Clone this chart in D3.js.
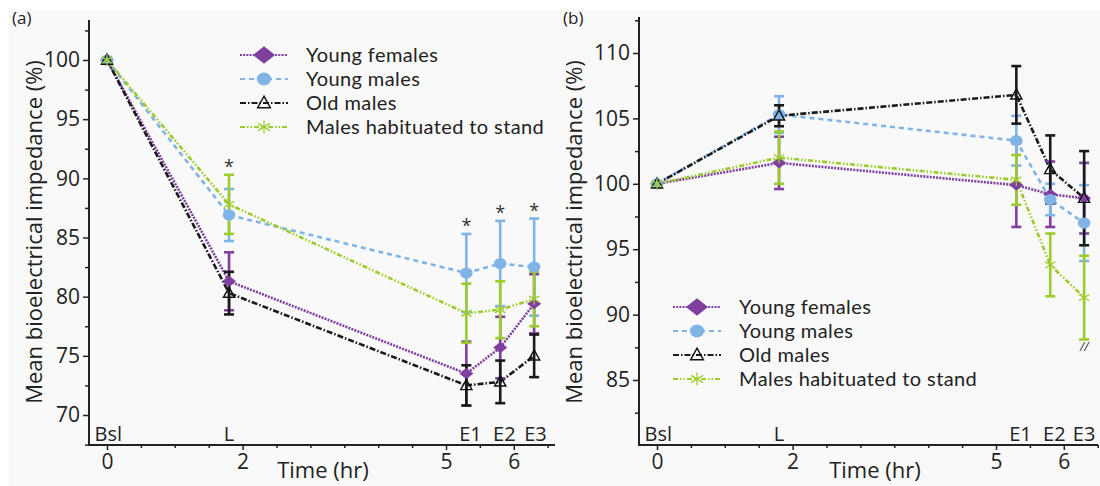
<!DOCTYPE html>
<html>
<head>
<meta charset="utf-8">
<script src="https://cdn.jsdelivr.net/npm/d3@7"></script>
<style>
  body { margin: 0; background: #fff; }
  svg { display: block; font-family: "Open Sans", "DejaVu Sans", sans-serif; }
  .tick text { fill: #222; }
</style>
</head>
<body>
<div class="chart"></div>
<script>
// time points (hr) and their phase labels
var times = [0, 1.8, 5.3, 5.8, 6.3];
var phases = ["Bsl", "L", "E1", "E2", "E3"];
var seriesNames = ["Young females", "Young males", "Old males", "Males habituated to stand"];

// panel (a)
var aYoungFemales = [100, 81.3, 73.5, 75.7, 79.4];
var aYoungFemalesErr = [0, 2.45, 2.7, 2.6, 2.5];
var aYoungMales = [100, 86.9, 82.0, 82.8, 82.5];
var aYoungMalesErr = [0, 2.2, 3.3, 3.6, 4.1];
var aOldMales = [100, 80.3, 72.5, 72.8, 75.0];
var aOldMalesErr = [0, 1.8, 1.7, 1.8, 1.8];
var aHabituated = [100, 87.8, 78.6, 78.9, 79.8];
var aHabituatedErr = [0, 2.5, 2.5, 2.4, 2.3];
var aStars = ["L", "E1", "E2", "E3"];

// panel (b)
var bYoungFemales = [100, 101.6, 99.9, 99.2, 98.9];
var bYoungFemalesErr = [0, 2.0, 3.2, 2.5, 2.7];
var bYoungMales = [100, 105.3, 103.3, 98.8, 97.0];
var bYoungMalesErr = [0, 1.4, 1.9, 1.2, 2.9];
var bOldMales = [100, 105.2, 106.8, 101.1, 98.9];
var bOldMalesErr = [0, 0.8, 2.2, 2.6, 3.6];
var bHabituated = [100, 102.0, 100.3, 93.8, 91.3];
var bHabituatedErr = [0, 2.0, 1.9, 2.4, 3.2];

var xTicks = [0, 2, 5, 6];
var aYTicks = [70, 75, 80, 85, 90, 95, 100];
var bYTicks = [85, 90, 95, 100, 105, 110];

var styles = [
  {color: "#7f3f9f", dash: "2,1.2", marker: "diamond"},
  {color: "#80b4e6", dash: "5,4", marker: "circle"},
  {color: "#1a1a1a", dash: "6,2,1.5,2", marker: "triangle"},
  {color: "#9ccc2c", dash: "5,2,1.5,2,1.5,2", marker: "cross"}
];

var width = 1100, height = 486;
var svg = d3.select(".chart").append("svg")
  .attr("width", width)
  .attr("height", height);

svg.append("rect").attr("x", 9).attr("y", 10).attr("width", width - 9).attr("height", height - 10)
  .attr("fill", "#f9f9f9");

function drawMarker(g, type, color, cx, cy, s) {
  if (type == "diamond") {
    g.append("path")
      .attr("d", "M" + (cx - s) + "," + cy + "L" + cx + "," + (cy - s * 0.8) + "L" + (cx + s) + "," + cy + "L" + cx + "," + (cy + s * 0.8) + "Z")
      .attr("fill", color);
  } else if (type == "circle") {
    g.append("ellipse").attr("cx", cx).attr("cy", cy).attr("rx", s * 0.9).attr("ry", s * 0.8).attr("fill", color);
  } else if (type == "triangle") {
    g.append("path")
      .attr("d", "M" + cx + "," + (cy - s * 0.85) + "L" + (cx + s * 0.8) + "," + (cy + s * 0.6) + "L" + (cx - s * 0.8) + "," + (cy + s * 0.6) + "Z")
      .attr("fill", "none").attr("stroke", "#111").attr("stroke-width", 1.4);
  } else {
    var k = s * 0.75;
    g.append("path")
      .attr("d", "M" + (cx - k) + "," + (cy - k * 0.6) + "L" + (cx + k) + "," + (cy + k * 0.6) +
        "M" + (cx - k) + "," + (cy + k * 0.6) + "L" + (cx + k) + "," + (cy - k * 0.6) +
        "M" + cx + "," + (cy - k * 1.1) + "L" + cx + "," + (cy + k * 1.1))
      .attr("fill", "none").attr("stroke", color).attr("stroke-width", 1.3);
  }
}

function drawPanel(p) {
  var x = d3.scaleLinear().domain([0, 6]).range([p.x0, p.x0 + 6 * 67.8]);
  var y = d3.scaleLinear().domain(p.yDomain).range(p.yRange);
  var g = svg.append("g");

  // axes lines
  g.append("line").attr("x1", p.axisX).attr("x2", p.axisX).attr("y1", p.axisTop).attr("y2", p.axisBottom)
    .attr("stroke", "#222").attr("stroke-width", 2);
  g.append("line").attr("x1", p.axisX - 1).attr("x2", p.axisRight).attr("y1", p.axisBottom).attr("y2", p.axisBottom)
    .attr("stroke", "#222").attr("stroke-width", 2);

  var yMinor = d3.range(p.yTicks[0] - 2.5, p.yDomainTop, 2.5).filter(function(v) { return p.yTicks.indexOf(v) < 0; });
  var ya = g.append("g").attr("transform", "translate(" + p.axisX + ",0)")
    .call(d3.axisLeft(y).tickValues(p.yTicks).tickSize(6).tickPadding(3).tickFormat(d3.format("d")));
  ya.select(".domain").remove();
  ya.selectAll(".tick line").attr("stroke", "#222").attr("stroke-width", 1.5);
  ya.selectAll(".tick text").attr("font-size", 21).attr("font-family", "'Open Sans', sans-serif");
  var ym = g.append("g").attr("transform", "translate(" + p.axisX + ",0)")
    .call(d3.axisLeft(y).tickValues(yMinor).tickSize(4).tickFormat(""));
  ym.select(".domain").remove();
  ym.selectAll(".tick line").attr("stroke", "#222").attr("stroke-width", 1.5);

  var xMinor = d3.range(0.5, 6.6, 0.5).filter(function(v) { return xTicks.indexOf(v) < 0; });
  var xa = g.append("g").attr("transform", "translate(0," + p.axisBottom + ")")
    .call(d3.axisBottom(x).tickValues(xTicks).tickSize(5).tickPadding(4).tickFormat(d3.format("d")));
  xa.select(".domain").remove();
  xa.selectAll(".tick line").attr("stroke", "#222").attr("stroke-width", 1.5);
  xa.selectAll(".tick text").attr("font-size", 21).attr("font-family", "'Open Sans', sans-serif");
  var xm = g.append("g").attr("transform", "translate(0," + p.axisBottom + ")")
    .call(d3.axisBottom(x).tickValues(xMinor).tickSize(3).tickFormat(""));
  xm.select(".domain").remove();
  xm.selectAll(".tick line").attr("stroke", "#222").attr("stroke-width", 1.5);

  // phase labels above x axis
  g.selectAll("text.phase").data(phases).enter().append("text")
    .attr("class", "phase")
    .attr("x", function(d, i) { return x(p.phaseAt[i]); })
    .attr("y", p.axisBottom - 4)
    .attr("text-anchor", "middle")
    .attr("font-size", 20)
    .attr("fill", "#222")
    .text(function(d) { return d; });

  g.append("text").attr("x", p.titleX).attr("y", 478).attr("text-anchor", "middle")
    .attr("font-size", 22).attr("fill", "#222").text("Time (hr)");
  g.append("text").attr("transform", "translate(" + p.yTitleX + "," + p.yTitleY + ") rotate(-90)")
    .attr("text-anchor", "middle").attr("font-size", 22).attr("fill", "#222")
    .text("Mean bioelectrical impedance (%)");
  g.append("text").attr("x", p.tagX).attr("y", 24).attr("font-size", 17).attr("fill", "#222").text(p.tag);

  var line = d3.line()
    .x(function(d) { return x(d.t); })
    .y(function(d) { return y(d.v); });

  p.series.forEach(function(s, k) {
    var pts = times.map(function(t, i) { return {t: t, v: s.v[i], e: s.e[i]}; });
    g.append("path").attr("d", line(pts))
      .attr("fill", "none").attr("stroke", styles[k].color).attr("stroke-width", 2.6)
      .attr("stroke-dasharray", styles[k].dash);
  });

  p.series.forEach(function(s, k) {
    var c = styles[k].color;
    times.forEach(function(t, i) {
      var e = s.e[i];
      if (!e) return;
      var cx = x(t), y1 = y(s.v[i] + e), y2 = y(s.v[i] - e);
      g.append("line").attr("x1", cx).attr("x2", cx).attr("y1", y1).attr("y2", y2)
        .attr("stroke", c).attr("stroke-width", 2.6);
      [y1, y2].forEach(function(yy) {
        g.append("line").attr("x1", cx - 5).attr("x2", cx + 5).attr("y1", yy).attr("y2", yy)
          .attr("stroke", c).attr("stroke-width", 2.6);
      });
    });
  });

  p.series.forEach(function(s, k) {
    times.forEach(function(t, i) {
      drawMarker(g, styles[k].marker, styles[k].color, x(t), y(s.v[i]), 7);
    });
  });

  // significance marks
  (p.stars || []).forEach(function(ph) {
    var i = phases.indexOf(ph);
    var top = d3.max(p.series, function(s) { return s.v[i] + s.e[i]; });
    g.append("text").attr("x", x(times[i])).attr("y", y(top) - 2)
      .attr("text-anchor", "middle").attr("font-size", 18).attr("fill", "#333").text("*");
  });
  if (p.hash) {
    var j = phases.indexOf(p.hash);
    var s3 = p.series[3];
    g.append("text").attr("x", x(times[j])).attr("y", y(s3.v[j] - s3.e[j]) + 12)
      .attr("text-anchor", "middle").attr("font-size", 12).attr("font-style", "italic")
      .attr("fill", "#333").text("//");
  }

  // legend
  var lg = g.append("g").attr("transform", "translate(" + p.legX + "," + p.legY + ")");
  seriesNames.forEach(function(name, k) {
    var yy = k * 24;
    lg.append("line").attr("x1", 0).attr("x2", 48).attr("y1", yy).attr("y2", yy)
      .attr("stroke", styles[k].color).attr("stroke-width", 2).attr("stroke-dasharray", styles[k].dash);
    drawMarker(lg, styles[k].marker, styles[k].color, 24, yy, k == 0 ? 11 : 8);
    lg.append("text").attr("x", 66).attr("y", yy + 7)
      .attr("font-family", "Lato, sans-serif").attr("font-size", 20).attr("letter-spacing", 0.4)
      .attr("fill", "#222").text(name);
  });
}

drawPanel({
  tag: "(a)", tagX: 12,
  x0: 107, axisX: 89, axisRight: 555, axisTop: 20, axisBottom: 445,
  yDomain: [70, 100], yRange: [415, 60], yDomainTop: 103.4, yTicks: aYTicks,
  phaseAt: [0.02, 1.8, 5.36, 5.86, 6.32],
  titleX: 323, yTitleX: 42, yTitleY: 232,
  legX: 240, legY: 55,
  stars: aStars,
  series: [
    {v: aYoungFemales, e: aYoungFemalesErr},
    {v: aYoungMales, e: aYoungMalesErr},
    {v: aOldMales, e: aOldMalesErr},
    {v: aHabituated, e: aHabituatedErr}
  ]
});

drawPanel({
  tag: "(b)", tagX: 563,
  x0: 657, axisX: 639, axisRight: 1098, axisTop: 17, axisBottom: 445,
  yDomain: [85, 110], yRange: [380, 53], yDomainTop: 112.8, yTicks: bYTicks,
  phaseAt: [0.02, 1.8, 5.36, 5.86, 6.3],
  titleX: 875, yTitleX: 582, yTitleY: 232,
  legX: 673, legY: 307,
  hash: "E3",
  series: [
    {v: bYoungFemales, e: bYoungFemalesErr},
    {v: bYoungMales, e: bYoungMalesErr},
    {v: bOldMales, e: bOldMalesErr},
    {v: bHabituated, e: bHabituatedErr}
  ]
});
</script>
</body>
</html>
